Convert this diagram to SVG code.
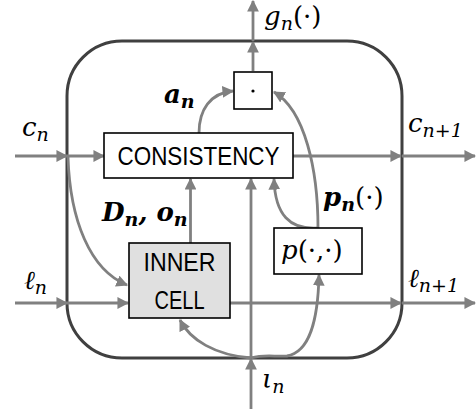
<svg xmlns="http://www.w3.org/2000/svg" width="476" height="409" viewBox="0 0 476 409">
<defs>
<marker id="ah" viewBox="0 0 10 10" refX="9" refY="5" markerWidth="4.2" markerHeight="4.2" orient="auto" markerUnits="strokeWidth">
<path d="M0,0 L10,5 L0,10 z" fill="#808080"/>
</marker>
<style>
.c{fill:none;stroke:#808080;stroke-width:2.8;marker-end:url(#ah)}
.box{fill:#fff;stroke:#000;stroke-width:1.6}
.lbl{font-family:"Liberation Sans",Arial,sans-serif;font-size:25px;fill:#000;text-anchor:middle}
.m{font-family:"DejaVu Serif","Liberation Serif",serif;font-style:italic;font-size:26px;fill:#000}
.b{font-weight:bold}
.s{font-size:19px}
.u{font-style:normal;font-weight:normal}
</style>
</defs>
<rect x="67" y="41" width="335" height="317" rx="55" ry="55" fill="none" stroke="#404040" stroke-width="3"/>
<g id="connectors">
<line class="c" x1="253" y1="71" x2="253" y2="42"/>
<line class="c" x1="253" y1="41" x2="253" y2="1"/>
<line class="c" x1="15" y1="156" x2="67" y2="156"/>
<line class="c" x1="67" y1="156" x2="104" y2="156"/>
<line class="c" x1="293" y1="156" x2="401" y2="156"/>
<line class="c" x1="402" y1="156" x2="475" y2="156"/>
<line class="c" x1="15" y1="303" x2="67" y2="303"/>
<line class="c" x1="67" y1="303" x2="128" y2="303"/>
<line class="c" x1="230" y1="303" x2="401" y2="303"/>
<line class="c" x1="402" y1="303" x2="475" y2="303"/>
<line class="c" x1="251" y1="409" x2="251" y2="359"/>
<line class="c" x1="251" y1="358" x2="251" y2="179"/>
<line class="c" x1="190.5" y1="243" x2="190.5" y2="179"/>
<path class="c" d="M199,133 C199,110 210,93 233,91"/>
<path class="c" d="M68,157 C70,220 90,270 127,285"/>
<path class="c" d="M318,228 C318,170 305,110 274,92"/>
<path class="c" d="M318,228 C290,230 275,215 274,179"/>
<path class="c" d="M251,358 C215,355 190,340 180,320"/>
<path class="c" d="M251,358 C265,354 275,357 287,356 C310,352 318,320 319,275"/>
</g>
<g id="dot">
<rect class="box" x="234" y="72" width="38" height="37"/>
<circle cx="253" cy="91" r="1.6" fill="#000"/>
</g>
<g id="consistency">
<rect class="box" x="104" y="133" width="189" height="45"/>
<text class="lbl" x="198.5" y="165" textLength="162" lengthAdjust="spacingAndGlyphs">CONSISTENCY</text>
</g>
<g id="inner">
<rect x="129" y="243" width="101" height="75" fill="#e0e0e0" stroke="#000" stroke-width="1.6"/>
<text class="lbl" x="179.5" y="271" textLength="72" lengthAdjust="spacingAndGlyphs">INNER</text>
<text class="lbl" x="179.5" y="309" textLength="50" lengthAdjust="spacingAndGlyphs">CELL</text>
</g>
<g id="pbox">
<rect class="box" x="274" y="228" width="88" height="46"/>
<text class="m" x="281" y="259">p<tspan class="u">(·,·)</tspan></text>
</g>
<g id="labels">
<text class="m" x="264" y="25">g<tspan class="s" dy="5">n</tspan><tspan class="u" dy="-5">(·)</tspan></text>
<text class="m b" x="164" y="103">a<tspan class="s" dy="5">n</tspan></text>
<text class="m b" x="102" y="221">D<tspan class="s" dy="5">n</tspan><tspan dy="-5">, o</tspan><tspan class="s" dy="5">n</tspan></text>
<text class="m b" x="323" y="206">p<tspan class="s" dy="5">n</tspan><tspan class="u" dy="-5">(·)</tspan></text>
<text class="m" x="22" y="136">c<tspan class="s" dy="5">n</tspan></text>
<text class="m" x="408" y="132">c<tspan class="s" dy="5">n+1</tspan></text>
<text class="m" x="24" y="289">ℓ<tspan class="s" dy="5">n</tspan></text>
<text class="m" x="408" y="287">ℓ<tspan class="s" dy="5">n+1</tspan></text>
<text class="m" x="262" y="388">ι<tspan class="s" dy="5">n</tspan></text>
</g>
</svg>
